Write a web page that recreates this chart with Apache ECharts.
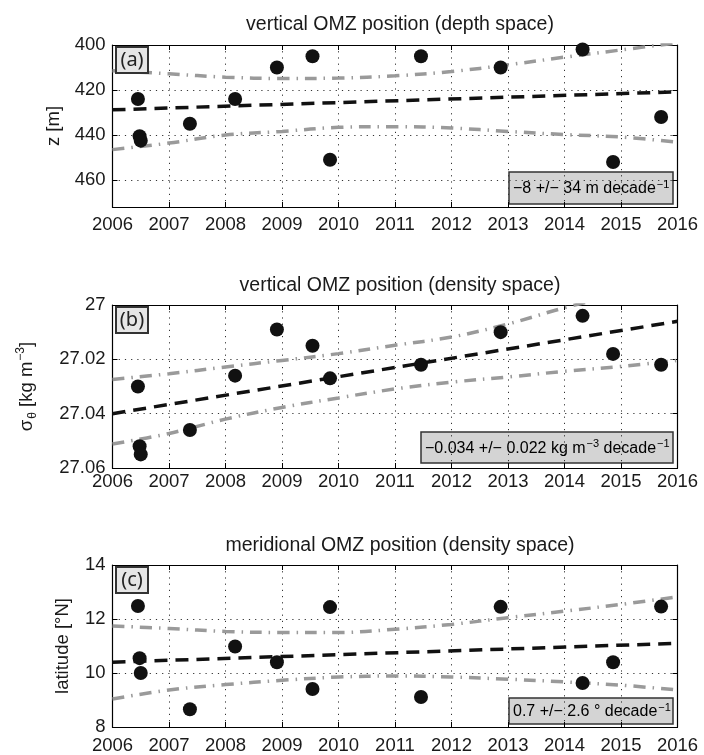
<!DOCTYPE html>
<html>
<head>
<meta charset="utf-8">
<title>OMZ position trends</title>
<script src="https://cdn.jsdelivr.net/npm/echarts@6/dist/echarts.min.js"></script>
<style>
  html, body { margin: 0; padding: 0; background: #fff; }
  #chart { width: 704px; height: 755px; }
</style>
</head>
<body>
<div id="chart"></div>
<script>
// Observation times (decimal years) shared by all three panels
const obsTime = [2006.45, 2006.48, 2006.50, 2007.37, 2008.17, 2008.91, 2009.54, 2009.85, 2011.46, 2012.87, 2014.32, 2014.86, 2015.71];

// (a) OMZ depth [m]
const depthZ = [424, 440.5, 442.5, 435, 424, 410, 405, 451, 405, 410, 402, 452, 432];
// (b) OMZ density sigma-theta [kg m-3]
const sigmaTheta = [27.030, 27.052, 27.055, 27.046, 27.026, 27.009, 27.015, 27.027, 27.022, 27.010, 27.004, 27.018, 27.022];
// (c) OMZ latitude [deg N]
const latitudeN = [12.48, 10.55, 10.00, 8.66, 10.98, 10.40, 9.41, 12.44, 9.11, 12.45, 9.63, 10.40, 12.46];

// Linear trends (end points at 2006 and 2016)
const trendYears = [2006, 2016];
const depthTrend = [428.8, 420.8];
const sigmaTrend = [27.040, 27.006];
const latTrend = [10.40, 11.10];

// Confidence bands, sampled yearly
const bandYears = [2006, 2007, 2008, 2009, 2010, 2011, 2012, 2013, 2014, 2015, 2016];
const depthUpper = [411.4, 412.8, 414.3, 414.9, 414.7, 413.7, 411.8, 408.8, 405.4, 402.2, 399.0];
const depthLower = [446.5, 443.6, 440.0, 438.4, 436.6, 436.3, 436.9, 438.4, 439.8, 440.9, 443.2];
const sigmaUpper = [27.0274, 27.0253, 27.0228, 27.0204, 27.0179, 27.0148, 27.0118, 27.0070, 27.0010, 26.9960, 26.9910];
const sigmaLower = [27.0512, 27.0473, 27.0420, 27.0377, 27.0342, 27.0309, 27.0284, 27.0265, 27.0244, 27.0226, 27.0204];
const latUpper = [11.74, 11.65, 11.54, 11.50, 11.50, 11.62, 11.80, 12.05, 12.29, 12.54, 12.82];
const latLower = [9.04, 9.37, 9.57, 9.73, 9.85, 9.89, 9.85, 9.77, 9.67, 9.55, 9.37];

// Panel texts
const panelTitles = ['vertical OMZ position (depth space)', 'vertical OMZ position (density space)', 'meridional OMZ position (density space)'];
const panelTags = ['(a)', '(b)', '(c)'];

const FONT = "'Liberation Sans', Arial, Helvetica, sans-serif";
const FS = 18.5;

const zip = (xs, ys) => xs.map((x, i) => [x, ys[i]]);

const grids = [
  { left: 112.5, top: 45, width: 565, height: 162 },
  { left: 112.5, top: 305, width: 565, height: 163 },
  { left: 112.5, top: 565, width: 565, height: 162 }
];

const frameLine = { show: true, onZero: false, lineStyle: { color: '#000', width: 1.2 } };
const innerTick = { show: true, inside: true, length: 5, lineStyle: { color: '#000', width: 1 } };
const dotGrid = { show: true, lineStyle: { color: '#333', width: 1, type: [1.2, 5] } };

const xAxes = [];
const labelMargins = [8, 4, 9];
grids.forEach((g, gi) => {
  xAxes.push({
    type: 'value', gridIndex: gi, min: 2006, max: 2016, interval: 1, position: 'bottom', z: 3,
    axisLine: frameLine, axisTick: innerTick, splitLine: dotGrid,
    axisLabel: { margin: labelMargins[gi], color: '#1a1a1a', fontSize: FS, fontFamily: FONT, formatter: v => String(Math.round(v)) }
  });
  xAxes.push({
    type: 'value', gridIndex: gi, min: 2006, max: 2016, interval: 1, position: 'top', z: 3,
    axisLine: frameLine, axisTick: innerTick, splitLine: { show: false }, axisLabel: { show: false }
  });
});

const yDefs = [
  { min: 400, max: 472, interval: 20, inverse: true, fmt: v => (v % 20 === 0 ? String(v) : ''),
    name: 'z [m]', nameGap: 46 },
  { min: 27.00, max: 27.06, interval: 0.02, inverse: true,
    fmt: v => { const r = Math.round(v * 100) / 100; return r === 27 ? '27' : r.toFixed(2); },
    name: '{m|σ}{b|θ}{m| [kg m}{p|−3}{m|]}', nameGap: 74 },
  { min: 8, max: 14, interval: 2, inverse: false, fmt: v => String(v),
    name: 'latitude [°N]', nameGap: 40 }
];

const yAxes = [];
yDefs.forEach((d, gi) => {
  yAxes.push({
    type: 'value', gridIndex: gi, min: d.min, max: d.max, interval: d.interval, inverse: d.inverse, position: 'left', z: 3,
    axisLine: frameLine, axisTick: innerTick, splitLine: dotGrid,
    axisLabel: { margin: 7, color: '#1a1a1a', fontSize: FS, fontFamily: FONT, formatter: d.fmt },
    name: d.name, nameLocation: 'middle', nameGap: d.nameGap, nameRotate: 90,
    nameTextStyle: {
      color: '#1a1a1a', fontSize: FS, fontFamily: FONT,
      rich: {
        m: { fontSize: FS, fontFamily: FONT, color: '#1a1a1a', lineHeight: 22 },
        b: { fontSize: 12, fontFamily: FONT, color: '#1a1a1a', verticalAlign: 'bottom', padding: [12, 0, 0, 1] },
        p: { fontSize: 12, fontFamily: FONT, color: '#1a1a1a', verticalAlign: 'top', padding: [0, 0, 10, 1] }
      }
    }
  });
  yAxes.push({
    type: 'value', gridIndex: gi, min: d.min, max: d.max, interval: d.interval, inverse: d.inverse, position: 'right', z: 3,
    axisLine: frameLine, axisTick: innerTick, splitLine: { show: false }, axisLabel: { show: false }
  });
});

const panels = [
  { obs: depthZ, trend: depthTrend, up: depthUpper, lo: depthLower },
  { obs: sigmaTheta, trend: sigmaTrend, up: sigmaUpper, lo: sigmaLower },
  { obs: latitudeN, trend: latTrend, up: latUpper, lo: latLower }
];

const series = [];
panels.forEach((p, gi) => {
  const axes = { xAxisIndex: gi * 2, yAxisIndex: gi * 2 };
  const band = {
    type: 'line', ...axes, smooth: 0.35, symbol: 'none', silent: true, z: 4,
    lineStyle: { color: '#9a9a9a', width: 3.5, type: [12, 7, 1.5, 7] }
  };
  series.push({ ...band, data: zip(bandYears, p.up) });
  series.push({ ...band, data: zip(bandYears, p.lo) });
  series.push({
    type: 'line', ...axes, symbol: 'none', silent: true, z: 5,
    lineStyle: { color: '#111', width: 3.5, type: [13, 8] },
    data: zip(trendYears, p.trend)
  });
  series.push({
    type: 'scatter', ...axes, symbol: 'circle', symbolSize: 14, z: 6,
    itemStyle: { color: '#111', opacity: 1 },
    data: zip(obsTime, p.obs)
  });
});

const titles = panelTitles.map((t, i) => ({
  text: t, left: 395, textAlign: 'center', top: [10, 271, 531][i],
  textStyle: { fontFamily: FONT, fontSize: 19.5, fontWeight: 'normal', color: '#1a1a1a' }
}));

// Panel tags in the upper-left corner of each panel
const tagBoxes = [];
grids.forEach((g, i) => {
  tagBoxes.push({
    type: 'rect', z: 20, shape: { x: 116, y: g.top + 2, width: 32, height: 26 },
    style: { fill: '#e6e6e6', stroke: '#333', lineWidth: 2 }
  });
  tagBoxes.push({
    type: 'text', z: 21, x: 132, y: g.top + 15,
    style: { text: panelTags[i], align: 'center', verticalAlign: 'middle', font: "20px 'Noto Sans', 'Open Sans', sans-serif", fill: '#222' }
  });
});

// Trend annotations in the lower-right corner
const NFS = 16;
const noteRich = {
  t: { fontSize: NFS, fontFamily: FONT, color: '#1a1a1a', lineHeight: 20 },
  s: { fontSize: 11, fontFamily: FONT, color: '#1a1a1a', verticalAlign: 'top', padding: [0, 0, 8, 1] }
};
const notes = [
  { text: '{t|−8 +/− 34 m decade}{s|−1}', box: [509, 172, 164, 32] },
  { text: '{t|−0.034 +/− 0.022 kg m}{s|−3}{t| decade}{s|−1}', box: [421, 432, 252, 31] },
  { text: '{t|0.7 +/− 2.6 ° decade}{s|−1}', box: [509, 698, 164, 26] }
];
const noteEls = [];
notes.forEach(n => {
  const [x, y, w, h] = n.box;
  noteEls.push({
    type: 'rect', z: 1, shape: { x, y, width: w, height: h },
    style: { fill: '#d4d4d4', stroke: '#333', lineWidth: 1.5 }
  });
  noteEls.push({
    type: 'text', z: 2, x: x + 4, y: y + h / 2 + 1,
    style: { text: n.text, rich: noteRich, align: 'left', verticalAlign: 'middle' }
  });
});

const chart = echarts.init(document.getElementById('chart'), null, { renderer: 'canvas' });
chart.setOption({
  animation: false,
  backgroundColor: '#fff',
  title: titles,
  grid: grids,
  xAxis: xAxes,
  yAxis: yAxes,
  series: series,
  graphic: { elements: [...noteEls, ...tagBoxes] }
});
</script>
</body>
</html>
